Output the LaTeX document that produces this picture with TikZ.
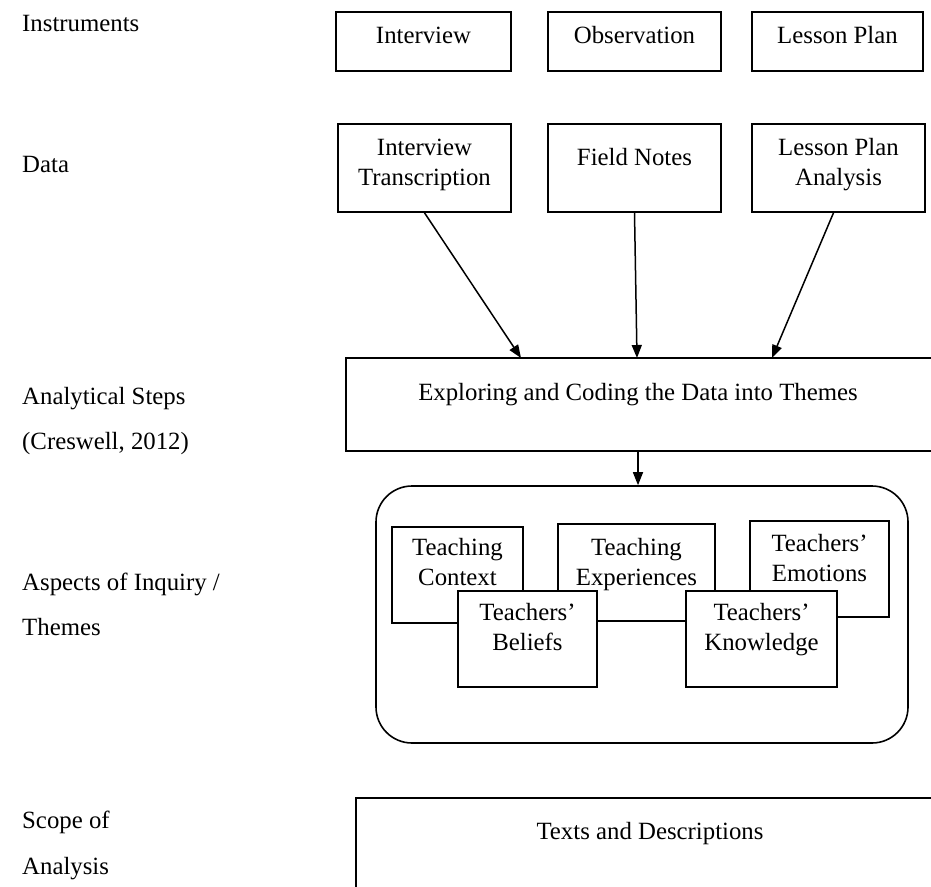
\documentclass[tikz,border=0pt]{standalone}
\usepackage{fontspec}
\setmainfont{Liberation Serif}
\usetikzlibrary{arrows.meta,calc}
\begin{document}
\begin{tikzpicture}[x=1pt,y=-1pt,
  box/.style={draw, line width=1.6pt, inner sep=0pt, fill=white},
  lbl/.style={font=\fontsize{24.8}{30}\selectfont, inner sep=0pt, anchor=base},
  side/.style={font=\fontsize{24.8}{30}\selectfont, inner sep=0pt, anchor=base west},
  arr/.style={line width=1.5pt, -{Triangle[length=13pt,width=10pt]}}]
\clip (0,0) rectangle (931,886);
\fill[white] (0,0) rectangle (931,886);

% left labels
\node[side] (s1) at (22,31) {Instruments};
\node[side] (s2) at (22,172) {Data};
\node[side] (s3) at (22,404) {Analytical Steps};
\node[side] (s4) at (22,449) {(Creswell, 2012)};
\node[side] (s5) at (22,590) {Aspects of Inquiry /};
\node[side] (s6) at (22,635) {Themes};
\node[side] (s7) at (22,828) {Scope of};
\node[side] (s8) at (22,874) {Analysis};

% instruments
\node[box, minimum width=175pt, minimum height=59pt] (iv) at (423.5,41.5) {};
\node[lbl] (ivT) at (423.5,43) {Interview};
\node[box, minimum width=173pt, minimum height=59pt] (ob) at (634.5,41.5) {};
\node[lbl] (obT) at (634.5,43) {Observation};
\node[box, minimum width=171pt, minimum height=59pt] (lp) at (837.5,41.5) {};
\node[lbl] (lpT) at (837.5,43) {Lesson Plan};

% data
\node[box, minimum width=173pt, minimum height=88pt] (it) at (424.5,168) {};
\node[lbl] (itT1) at (424.5,155) {Interview};
\node[lbl] (itT2) at (424.5,185) {Transcription};
\node[box, minimum width=173pt, minimum height=88pt] (fn) at (634.5,168) {};
\node[lbl] (fnT) at (634.5,165) {Field Notes};
\node[box, minimum width=173pt, minimum height=88pt] (la) at (838.5,168) {};
\node[lbl] (laT1) at (838.5,155) {Lesson Plan};
\node[lbl] (laT2) at (838.5,185) {Analysis};

% analytical steps
\node[box, minimum width=600pt, minimum height=93pt] (ex) at (646,404.5) {};
\node[lbl] (exT) at (638,400) {Exploring and Coding the Data into Themes};
\coordinate (e1) at (521,358);
\coordinate (e2) at (637,358);
\coordinate (e3) at (772,358);
\coordinate (exb) at (638,451);
\draw[arr] (it.south) -- (e1);
\draw[arr] (fn.south) -- (e2);
\draw[arr] ($(la.south)+(-5,0)$) -- (e3);

% themes
\node[box, rounded corners=36pt, minimum width=532pt, minimum height=257pt] (th) at (642,614.5) {};
\draw[arr] (exb) -- (exb |- th.north);

\node[box, minimum width=131pt, minimum height=96pt] (tc) at (457.5,575) {};
\node[lbl] (tcT1) at (457.5,555) {Teaching};
\node[lbl] (tcT2) at (457.5,585) {Context};
\node[box, minimum width=157pt, minimum height=97pt] (te) at (636.5,572.5) {};
\node[lbl] (teT1) at (636.5,555) {Teaching};
\node[lbl] (teT2) at (636.5,585) {Experiences};
\node[box, minimum width=139pt, minimum height=96pt] (tm) at (819.5,569) {};
\node[lbl] (tmT1) at (819.5,551) {Teachers’};
\node[lbl] (tmT2) at (819.5,581) {Emotions};
\node[box, minimum width=139pt, minimum height=96pt] (tb) at (527.5,639) {};
\node[lbl] (tbT1) at (527.5,620) {Teachers’};
\node[lbl] (tbT2) at (527.5,650) {Beliefs};
\node[box, minimum width=151pt, minimum height=96pt] (tk) at (761.5,639) {};
\node[lbl] (tkT1) at (761.5,620) {Teachers’};
\node[lbl] (tkT2) at (761.5,650) {Knowledge};

% scope
\node[box, minimum width=590pt, minimum height=120pt] (sc) at (651,858) {};
\node[lbl] (scT) at (650,839) {Texts and Descriptions};
\end{tikzpicture}
\end{document}
